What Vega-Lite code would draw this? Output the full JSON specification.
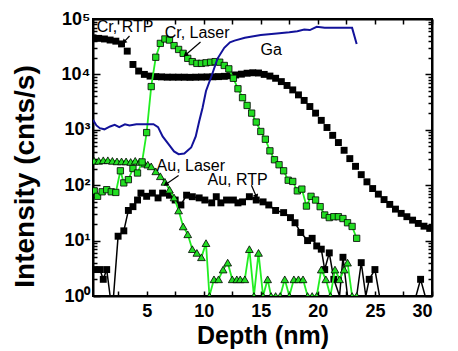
{
  "$schema": "https://vega.github.io/schema/vega-lite/v6.json",
  "width": 339,
  "height": 277,
  "autosize": {"type": "none"},
  "padding": {"left": 93, "top": 19, "right": 26, "bottom": 55},
  "background": "white",
  "config": {
    "view": {"stroke": "black", "strokeWidth": 2},
    "font": "Liberation Sans",
    "axis": {
      "domainColor": "black", "domainWidth": 2, "tickColor": "black", "tickWidth": 1.5,
      "labelColor": "black", "titleColor": "black", "grid": false,
      "labelFont": "Liberation Sans", "labelFontWeight": "bold", "labelFontSize": 18,
      "titleFont": "Liberation Sans", "titleFontWeight": "bold", "titleFontSize": 25
    },
    "text": {"font": "Liberation Sans"}
  },
  "datasets": {
    "cr_rtp": [
      {"x":0.3,"v":45700},{"x":0.8,"v":44700},{"x":1.3,"v":43600},{"x":1.8,"v":41700},{"x":2.3,"v":39800},{"x":2.8,"v":35500},
      {"x":3.3,"v":26300},{"x":3.8,"v":15100},{"x":4.3,"v":11500},{"x":4.8,"v":10000},{"x":5.3,"v":9330},{"x":5.8,"v":9120},
      {"x":6.3,"v":9020},{"x":6.8,"v":8910},{"x":7.3,"v":8910},{"x":7.8,"v":8900},{"x":8.3,"v":8900},{"x":8.8,"v":8850},
      {"x":9.3,"v":8900},{"x":9.8,"v":8950},{"x":10.3,"v":9000},{"x":10.8,"v":9050},{"x":11.3,"v":9120},{"x":11.8,"v":9230},
      {"x":12.3,"v":9440},{"x":12.8,"v":9770},{"x":13.3,"v":10100},{"x":13.8,"v":10500},{"x":14.3,"v":10700},{"x":14.8,"v":10600},
      {"x":15.3,"v":10000},{"x":15.8,"v":9330},{"x":16.3,"v":8510},{"x":16.8,"v":7410},{"x":17.3,"v":6310},{"x":17.8,"v":5250},
      {"x":18.3,"v":4270},{"x":18.8,"v":3390},{"x":19.3,"v":2630},{"x":19.8,"v":2000},{"x":20.3,"v":1480},{"x":20.8,"v":1100},
      {"x":21.3,"v":794},{"x":21.8,"v":589},{"x":22.3,"v":427},{"x":22.8,"v":302},{"x":23.3,"v":219},{"x":23.8,"v":155},
      {"x":24.3,"v":115},{"x":24.8,"v":87},{"x":25.3,"v":69},{"x":25.8,"v":55},{"x":26.3,"v":45},{"x":26.8,"v":37},
      {"x":27.3,"v":31},{"x":27.8,"v":27},{"x":28.3,"v":23.4},{"x":28.8,"v":20.4},{"x":29.3,"v":18.2},{"x":29.8,"v":16.6}
    ],
    "au_rtp": [
      {"x":0.4,"v":3},{"x":0.9,"v":3},{"x":1.2,"v":2},{"x":1.5,"v":3},{"x":1.8,"v":1},{"x":2.1,"v":1},{"x":2.5,"v":12},
      {"x":3.0,"v":15},{"x":3.4,"v":35},{"x":3.8,"v":41},{"x":4.2,"v":54},{"x":4.5,"v":72},{"x":5.0,"v":63},{"x":5.5,"v":72},
      {"x":6.0,"v":59},{"x":6.4,"v":72},{"x":7.0,"v":66},{"x":7.5,"v":54},{"x":8.0,"v":44},{"x":8.5,"v":66},{"x":9.0,"v":62},
      {"x":9.6,"v":59},{"x":10.1,"v":54},{"x":10.7,"v":48},{"x":11.1,"v":62},{"x":11.5,"v":48},{"x":12.0,"v":54},{"x":12.6,"v":54},
      {"x":13.0,"v":48},{"x":13.4,"v":50},{"x":14.0,"v":62},{"x":14.6,"v":54},{"x":15.2,"v":50},{"x":15.7,"v":44},{"x":16.3,"v":35},
      {"x":17.0,"v":32},{"x":17.6,"v":26},{"x":18.0,"v":21},{"x":18.5,"v":14},{"x":19.1,"v":10},{"x":19.5,"v":11},{"x":19.9,"v":8},
      {"x":20.3,"v":7},{"x":20.6,"v":3},{"x":21.0,"v":6},{"x":21.4,"v":2},{"x":21.9,"v":1},{"x":22.2,"v":5},{"x":22.6,"v":1},
      {"x":23.0,"v":1},{"x":23.4,"v":1},{"x":23.8,"v":4},{"x":24.2,"v":1},{"x":24.5,"v":2},{"x":25.0,"v":3},{"x":25.4,"v":1},
      {"x":25.9,"v":1},{"x":26.4,"v":1},{"x":26.9,"v":1},{"x":27.4,"v":1},{"x":27.9,"v":1},{"x":28.4,"v":1},{"x":28.6,"v":1},
      {"x":29.0,"v":2},{"x":29.4,"v":1},{"x":29.9,"v":1}
    ],
    "au_laser": [
      {"x":0.4,"v":275},{"x":0.8,"v":275},{"x":1.2,"v":282},{"x":1.6,"v":282},{"x":2.0,"v":275},{"x":2.4,"v":269},{"x":2.8,"v":269},
      {"x":3.2,"v":269},{"x":3.6,"v":263},{"x":4.0,"v":275},{"x":4.4,"v":263},{"x":4.8,"v":245},{"x":5.1,"v":235},{"x":5.4,"v":219},
      {"x":5.8,"v":178},{"x":6.2,"v":145},{"x":6.6,"v":115},{"x":7.0,"v":83},{"x":7.4,"v":60},{"x":7.8,"v":35},{"x":8.2,"v":18},
      {"x":8.6,"v":13},{"x":9.0,"v":7},{"x":9.4,"v":6},{"x":9.8,"v":5},{"x":10.2,"v":9},{"x":10.5,"v":1},{"x":10.9,"v":2},
      {"x":11.3,"v":2},{"x":11.7,"v":3},{"x":12.1,"v":4},{"x":12.5,"v":2},{"x":12.9,"v":2},{"x":13.2,"v":2},{"x":13.6,"v":2},
      {"x":14.0,"v":7},{"x":14.4,"v":1},{"x":14.8,"v":6},{"x":15.2,"v":1},{"x":15.6,"v":2},{"x":15.9,"v":1},{"x":16.3,"v":1},
      {"x":16.7,"v":1},{"x":17.1,"v":2},{"x":17.5,"v":1},{"x":17.9,"v":2},{"x":18.3,"v":2},{"x":18.7,"v":2},{"x":19.1,"v":1},
      {"x":19.5,"v":1},{"x":19.9,"v":1},{"x":20.3,"v":3},{"x":20.7,"v":2},{"x":21.1,"v":1},{"x":21.5,"v":3},{"x":21.9,"v":2},
      {"x":22.3,"v":3},{"x":22.6,"v":4},{"x":23.0,"v":1},{"x":23.4,"v":1}
    ],
    "cr_laser": [
      {"x":0.4,"v":79},{"x":0.7,"v":63},{"x":1.1,"v":76},{"x":1.5,"v":83},{"x":1.9,"v":76},{"x":2.3,"v":74},{"x":2.7,"v":182},
      {"x":3.0,"v":110},{"x":3.4,"v":126},{"x":3.8,"v":200},{"x":4.2,"v":166},{"x":4.6,"v":263},{"x":5.0,"v":891},{"x":5.4,"v":6030},
      {"x":5.8,"v":20400},{"x":6.2,"v":36300},{"x":6.6,"v":43600},{"x":7.0,"v":41700},{"x":7.4,"v":33100},{"x":7.8,"v":28200},
      {"x":8.2,"v":24000},{"x":8.6,"v":19500},{"x":9.0,"v":17000},{"x":9.4,"v":15800},{"x":9.8,"v":15800},{"x":10.2,"v":16200},
      {"x":10.6,"v":16600},{"x":11.0,"v":17000},{"x":11.4,"v":16600},{"x":11.8,"v":14500},{"x":12.2,"v":12600},{"x":12.6,"v":8510},
      {"x":13.0,"v":5500},{"x":13.4,"v":3800},{"x":13.8,"v":2750},{"x":14.2,"v":2000},{"x":14.6,"v":1380},{"x":15.0,"v":933},
      {"x":15.4,"v":676},{"x":15.8,"v":417},{"x":16.2,"v":288},{"x":16.6,"v":234},{"x":17.0,"v":182},{"x":17.4,"v":123},
      {"x":17.8,"v":117},{"x":18.2,"v":79},{"x":18.6,"v":85},{"x":19.0,"v":42},{"x":19.4,"v":63},{"x":19.8,"v":54},{"x":20.2,"v":41},
      {"x":20.6,"v":29},{"x":21.0,"v":26},{"x":21.4,"v":27},{"x":21.8,"v":27},{"x":22.2,"v":25},{"x":22.6,"v":21},{"x":23.0,"v":18},
      {"x":23.4,"v":11}
    ],
    "ga": [
      {"x":0.3,"v":1510},{"x":0.6,"v":1200},{"x":0.9,"v":1070},{"x":1.3,"v":1020},{"x":1.8,"v":1150},{"x":2.2,"v":1230},
      {"x":2.6,"v":1120},{"x":3.1,"v":1260},{"x":3.5,"v":1200},{"x":4.1,"v":1260},{"x":4.7,"v":1260},{"x":5.6,"v":1260},
      {"x":6.0,"v":1120},{"x":6.4,"v":760},{"x":7.0,"v":525},{"x":7.4,"v":407},{"x":7.8,"v":363},{"x":8.3,"v":372},
      {"x":8.9,"v":479},{"x":9.3,"v":760},{"x":9.6,"v":1410},{"x":9.9,"v":2510},{"x":10.2,"v":5010},{"x":10.7,"v":9550},
      {"x":11.2,"v":19100},{"x":11.8,"v":30200},{"x":12.3,"v":38000},{"x":12.7,"v":40700},{"x":13.6,"v":45700},{"x":15.0,"v":51300},
      {"x":16.4,"v":55000},{"x":17.5,"v":57500},{"x":18.2,"v":60300},{"x":18.8,"v":64600},{"x":19.3,"v":63100},{"x":19.9,"v":72400},
      {"x":20.6,"v":69200},{"x":21.7,"v":69200},{"x":23.0,"v":69200},{"x":23.4,"v":35500}
    ],
    "labels": [
      {"text":"Cr, RTP","x":0.63,"v":71800},
      {"text":"Cr, Laser","x":6.58,"v":55900},
      {"text":"Ga","x":14.97,"v":27600},
      {"text":"Au, Laser","x":5.87,"v":224},
      {"text":"Au, RTP","x":10.33,"v":124}
    ],
    "arrows": [
      {"name":"crrtp","x0":3.5,"v0":49400,"x1":3.0,"v1":38300},
      {"name":"crlaser","x0":9.72,"v0":38500,"x1":8.4,"v1":22400},
      {"name":"aulaser","x0":7.8,"v0":150,"x1":6.66,"v1":103},
      {"name":"aurtp","x0":14.18,"v0":100,"x1":14.62,"v1":62}
    ]
  },
  "resolve": {"axis": {"x": "independent", "y": "independent"}},
  "layer": [
    {
      "data": {"name": "cr_rtp"},
      "mark": {"type": "point", "shape": "square", "filled": true, "color": "black", "size": 48, "opacity": 1, "clip": true},
      "encoding": {
        "x": {"field": "x", "type": "quantitative", "scale": {"domain": [0.3, 30], "nice": false, "zero": false},
          "axis": {"orient": "bottom", "values": [2.5,5,7.5,10,12.5,15,17.5,20,22.5,25,27.5,30],
            "labelExpr": "datum.value % 5 == 0 ? datum.label : ''", "tickSize": -5, "labelPadding": 11,
            "title": "Depth (nm)", "titlePadding": 3}},
        "y": {"field": "v", "type": "quantitative", "scale": {"type": "log", "domain": [1, 100000], "nice": false},
          "axis": {"orient": "left",
            "values": [1,2,3,4,5,6,7,8,9,10,20,30,40,50,60,70,80,90,100,200,300,400,500,600,700,800,900,1000,2000,3000,4000,5000,6000,7000,8000,9000,10000,20000,30000,40000,50000,60000,70000,80000,90000,100000],
            "labelExpr": "abs(log(datum.value)/LN10 - round(log(datum.value)/LN10)) < 0.001 ? '10' + ['⁰','¹','²','³','⁴','⁵'][round(log(datum.value)/LN10)] : ''",
            "tickSize": {"condition": {"test": "abs(log(datum.value)/LN10 - round(log(datum.value)/LN10)) < 0.001", "value": -7}, "value": -4},
            "labelPadding": 10, "labelBaseline": "middle",
            "title": "Intensity (cnts/s)", "titleFontSize": 28, "titleX": -54, "titleY": 157}}
      }
    },
    {
      "data": {"name": "au_rtp"},
      "mark": {"type": "line", "color": "black", "strokeWidth": 1.5, "clip": true},
      "encoding": {
        "x": {"field": "x", "type": "quantitative", "scale": {"domain": [0.3, 30], "nice": false, "zero": false},
          "axis": {"orient": "top", "values": [2.5,5,7.5,10,12.5,15,17.5,20,22.5,25,27.5,30], "labels": false, "tickSize": -5, "title": null}},
        "y": {"field": "v", "type": "quantitative", "scale": {"type": "log", "domain": [1, 100000], "nice": false},
          "axis": {"orient": "right", "labels": false, "title": null,
            "values": [1,2,3,4,5,6,7,8,9,10,20,30,40,50,60,70,80,90,100,200,300,400,500,600,700,800,900,1000,2000,3000,4000,5000,6000,7000,8000,9000,10000,20000,30000,40000,50000,60000,70000,80000,90000,100000],
            "tickSize": {"condition": {"test": "abs(log(datum.value)/LN10 - round(log(datum.value)/LN10)) < 0.001", "value": -7}, "value": -4}}}
      }
    },
    {
      "data": {"name": "au_rtp"},
      "transform": [{"filter": "datum.v > 1"}],
      "mark": {"type": "point", "shape": "square", "filled": true, "color": "black", "size": 48, "opacity": 1, "clip": true},
      "encoding": {
        "x": {"field": "x", "type": "quantitative", "axis": null},
        "y": {"field": "v", "type": "quantitative", "scale": {"type": "log"}, "axis": null}
      }
    },
    {
      "data": {"name": "au_laser"},
      "mark": {"type": "line", "color": "#22ee22", "strokeWidth": 1.8, "clip": true},
      "encoding": {
        "x": {"field": "x", "type": "quantitative", "axis": null},
        "y": {"field": "v", "type": "quantitative", "scale": {"type": "log"}, "axis": null}
      }
    },
    {
      "data": {"name": "au_laser"},
      "mark": {"type": "point", "shape": "triangle-up", "filled": true, "fill": "#22dd22", "stroke": "black", "strokeWidth": 0.8, "size": 60, "opacity": 1, "clip": true},
      "encoding": {
        "x": {"field": "x", "type": "quantitative", "axis": null},
        "y": {"field": "v", "type": "quantitative", "scale": {"type": "log"}, "axis": null}
      }
    },
    {
      "data": {"name": "cr_laser"},
      "mark": {"type": "line", "color": "#22ee22", "strokeWidth": 1.8, "clip": true},
      "encoding": {
        "x": {"field": "x", "type": "quantitative", "axis": null},
        "y": {"field": "v", "type": "quantitative", "scale": {"type": "log"}, "axis": null}
      }
    },
    {
      "data": {"name": "cr_laser"},
      "mark": {"type": "point", "shape": "square", "filled": true, "fill": "#22dd22", "stroke": "black", "strokeWidth": 0.8, "size": 40, "opacity": 1, "clip": true},
      "encoding": {
        "x": {"field": "x", "type": "quantitative", "axis": null},
        "y": {"field": "v", "type": "quantitative", "scale": {"type": "log"}, "axis": null}
      }
    },
    {
      "data": {"name": "ga"},
      "mark": {"type": "line", "color": "#12129a", "strokeWidth": 2, "clip": true},
      "encoding": {
        "x": {"field": "x", "type": "quantitative", "axis": null},
        "y": {"field": "v", "type": "quantitative", "scale": {"type": "log"}, "axis": null}
      }
    },
    {
      "data": {"name": "labels"},
      "mark": {"type": "text", "align": "left", "baseline": "middle", "fontSize": 16, "color": "black", "font": "Liberation Sans"},
      "encoding": {
        "x": {"field": "x", "type": "quantitative", "axis": null},
        "y": {"field": "v", "type": "quantitative", "scale": {"type": "log"}, "axis": null},
        "text": {"field": "text"}
      }
    },
    {
      "data": {"name": "arrows"},
      "mark": {"type": "rule", "color": "black", "strokeWidth": 1.2},
      "encoding": {
        "x": {"field": "x0", "type": "quantitative", "axis": null},
        "y": {"field": "v0", "type": "quantitative", "scale": {"type": "log"}, "axis": null},
        "x2": {"field": "x1"},
        "y2": {"field": "v1"}
      }
    },
    {
      "data": {"name": "arrows"},
      "transform": [{"filter": "datum.name == 'crrtp'"}],
      "mark": {"type": "point", "shape": "triangle-up", "filled": true, "color": "black", "size": 30, "opacity": 1, "angle": 225},
      "encoding": {
        "x": {"field": "x1", "type": "quantitative", "axis": null},
        "y": {"field": "v1", "type": "quantitative", "scale": {"type": "log"}, "axis": null}
      }
    },
    {
      "data": {"name": "arrows"},
      "transform": [{"filter": "datum.name == 'crlaser'"}],
      "mark": {"type": "point", "shape": "triangle-up", "filled": true, "color": "black", "size": 30, "opacity": 1, "angle": 229},
      "encoding": {
        "x": {"field": "x1", "type": "quantitative", "axis": null},
        "y": {"field": "v1", "type": "quantitative", "scale": {"type": "log"}, "axis": null}
      }
    },
    {
      "data": {"name": "arrows"},
      "transform": [{"filter": "datum.name == 'aulaser'"}],
      "mark": {"type": "point", "shape": "triangle-up", "filled": true, "color": "black", "size": 30, "opacity": 1, "angle": 235},
      "encoding": {
        "x": {"field": "x1", "type": "quantitative", "axis": null},
        "y": {"field": "v1", "type": "quantitative", "scale": {"type": "log"}, "axis": null}
      }
    },
    {
      "data": {"name": "arrows"},
      "transform": [{"filter": "datum.name == 'aurtp'"}],
      "mark": {"type": "point", "shape": "triangle-up", "filled": true, "color": "black", "size": 30, "opacity": 1, "angle": 157},
      "encoding": {
        "x": {"field": "x1", "type": "quantitative", "axis": null},
        "y": {"field": "v1", "type": "quantitative", "scale": {"type": "log"}, "axis": null}
      }
    }
  ]
}
